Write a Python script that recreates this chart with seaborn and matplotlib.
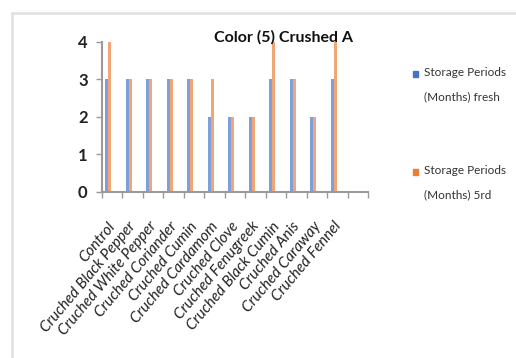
import matplotlib
matplotlib.use("Agg")
import matplotlib.pyplot as plt
import seaborn as sns
import pandas as pd
import numpy as np
from matplotlib.patches import Rectangle
from matplotlib.lines import Line2D

categories = ["Control", "Cruched Black Pepper", "Cruched White Pepper", "Cruched Coriander",
              "Cruched Cumin", "Cruched Cardamom", "Cruched Clove", "Cruched Fenugreek",
              "Cruched Black Cumin", "Cruched Anis", "Cruched Caraway", "Cruched Fennel"]
fresh = [3, 3, 3, 3, 3, 2, 2, 2, 3, 3, 2, 3]
rd5 = [4, 3, 3, 3, 3, 3, 2, 2, 4, 3, 2, 4]
series_names = ["Storage Periods\n(Months) fresh", "Storage Periods\n(Months) 5rd"]
title = "Color (5) Crushed A"
yticks = [0, 1, 2, 3, 4]

df = pd.DataFrame({
    "cat": categories * 2,
    "val": fresh + rd5,
    "series": [series_names[0]] * len(categories) + [series_names[1]] * len(categories),
})

sns.set_theme(style="white")
plt.rcParams['font.family'] = ['Lato', 'DejaVu Sans']

fig = plt.figure(figsize=(5.16, 3.58), dpi=100)
ax = fig.add_axes([101.5 / 516, 1 - 191.5 / 358, (368 - 101.5) / 516, (191.5 - 42) / 358])

blue = "#7d9fdb"
orange = "#f2a676"
sns.barplot(data=df, x="cat", y="val", hue="series", order=categories,
            hue_order=series_names, palette=[blue, orange], width=0.28,
            dodge=True, ax=ax, legend=False, saturation=1, linewidth=0)

n = len(categories)
shift = 0.17
ax.set_xlim(-0.5 + shift, n + 0.5 + shift)
ax.set_ylim(0, 4)
ax.set_yticks(yticks)
ax.set_yticklabels([str(v) for v in yticks], fontsize=12, fontweight="bold", color="#222222")
ax.set_xticks(np.arange(n) + shift - 0.2)
ax.set_xticklabels(categories, rotation=50, ha="right", rotation_mode="anchor",
                   fontsize=11, fontstyle="italic", color="#222222")
ax.set_xticks(np.arange(n + 2) - 0.5 + shift, minor=True)
ax.tick_params(axis="x", which="major", length=0, pad=20)
ax.tick_params(axis="x", which="minor", length=4, width=1, color="#9a9a9a", direction="out", bottom=True)
ax.tick_params(axis="y", which="major", length=4, width=1, color="#9a9a9a", direction="out", left=True, pad=6)
for s in ["top", "right"]:
    ax.spines[s].set_visible(False)
for s in ["left", "bottom"]:
    ax.spines[s].set_color("#9a9a9a")
    ax.spines[s].set_linewidth(1.5)
ax.set_xlabel("")
ax.set_ylabel("")

fig.text(284 / 516, 1 - 37 / 358, title, ha="center", va="center", fontsize=11.5,
         fontweight="bold", color="#111111")

# outer border of chart area
fig.add_artist(Line2D([12 / 516, 1], [1 - 13 / 358, 1 - 13 / 358], color="#e2e2e2", lw=2,
                      transform=fig.transFigure))
fig.add_artist(Line2D([12 / 516, 12 / 516], [0, 1 - 13 / 358], color="#e2e2e2", lw=2,
                      transform=fig.transFigure))

# legend
leg_colors = ["#4472c4", "#ed7d31"]
leg_y = [74, 172]
for name, c, y in zip(series_names, leg_colors, leg_y):
    fig.add_artist(Rectangle((413 / 516, 1 - (y + 3) / 358), 5 / 516, 6 / 358,
                             transform=fig.transFigure, color=c))
    fig.text(424 / 516, 1 - (y - 7) / 358, name, ha="left", va="top", fontsize=8.5,
             color="#333333", linespacing=2.5)

fig.savefig("out.png", dpi=100)
